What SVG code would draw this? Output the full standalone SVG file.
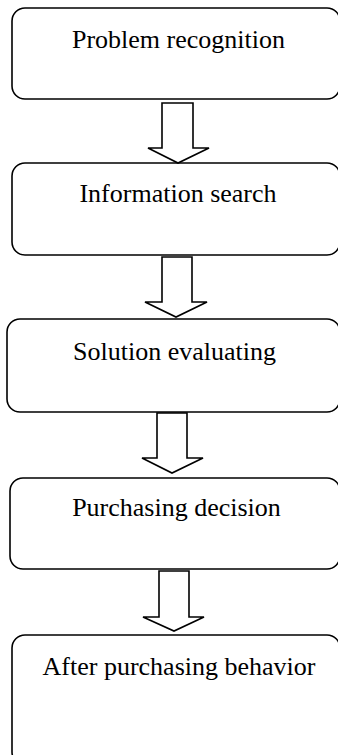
<svg xmlns="http://www.w3.org/2000/svg" width="338" height="755" viewBox="0 0 338 755">
<style>
.box{fill:#fff;stroke:#000;stroke-width:1.6}
.arr{fill:#fff;stroke:#000;stroke-width:1.6;stroke-linejoin:miter}
.lbl{font-family:"Liberation Serif","Times New Roman",serif;font-size:26px;fill:#000;text-anchor:middle}
</style>
<rect width="338" height="755" fill="#fff"/>
<g id="n1"><rect class="box" x="12" y="8" width="328" height="91" rx="13"/><text class="lbl" x="178.5" y="48">Problem recognition</text></g>
<g id="n2"><rect class="box" x="12" y="163" width="328" height="92" rx="13"/><text class="lbl" x="178" y="202">Information search</text></g>
<g id="n3"><rect class="box" x="7" y="319" width="333" height="93" rx="13"/><text class="lbl" x="174.5" y="360">Solution evaluating</text></g>
<g id="n4"><rect class="box" x="10" y="478" width="330" height="91" rx="13"/><text class="lbl" x="176.5" y="516">Purchasing decision</text></g>
<g id="n5"><rect class="box" x="12" y="635" width="328" height="130" rx="13"/><text class="lbl" x="179" y="675">After purchasing behavior</text></g>
<g id="connectors">
<polygon class="arr" points="162,103 193,103 193,148 209,148 178,163 148,148 162,148"/>
<polygon class="arr" points="162,257 192,257 192,302 207,302 176,317 145,302 162,302"/>
<polygon class="arr" points="157,413 187,413 187,458 203,458 172,473 142,458 157,458"/>
<polygon class="arr" points="159,571 189,571 189,617 204,617 174,631 143,617 159,617"/>
</g>
</svg>
